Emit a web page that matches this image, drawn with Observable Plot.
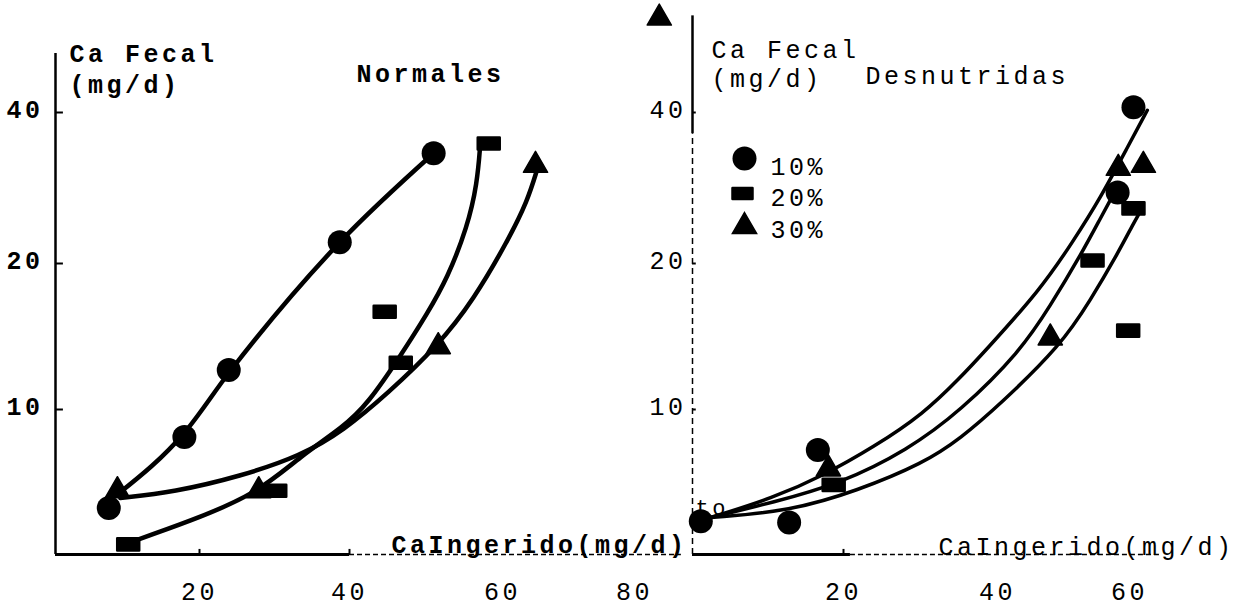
<!DOCTYPE html>
<html><head><meta charset="utf-8">
<script src="https://cdn.jsdelivr.net/npm/d3@7"></script>
<script src="https://cdn.jsdelivr.net/npm/@observablehq/plot@0.6"></script>
<style>
html,body{margin:0;padding:0;background:#fff;}
#wrap{position:relative;width:1234px;height:607px;overflow:hidden;background:#fff;}
#wrap svg{position:absolute;top:0;}
svg text{letter-spacing:3.5px;}
</style></head><body><div id="wrap"></div>
<script>
// ---------- data ----------
const yTicks = [10, 20, 40];
const xTicksLeft = [20, 40, 60, 80];
const xTicksRight = [20, 40, 60];
const yStops = [0, 10, 20, 40];
const xStopsLeft = [0, 20, 40, 60, 80];
const xStopsRight = [0, 20, 40, 60];
const yAxisLabel = ["Ca Fecal", "(mg/d)"];
const xAxisLabel = "CaIngerido(mg/d)";
const titleLeft = "Normales";
const titleRight = "Desnutridas";
const legendLabels = ["10%", "20%", "30%"];
const originNote = "to";

// Normales (left) – measured points
const normX10 = [7.4, 17.9, 23.9, 38.7, 51.0];
const normY10 = [3.2, 8.1, 12.7, 22.8, 34.6];
const normX20 = [10.1, 30.1, 44.6, 46.7, 58.2];
const normY20 = [0.7, 4.4, 16.7, 13.2, 35.9];
const normX30 = [8.6, 27.9, 51.6, 65.0];
const normY30 = [4.4, 4.4, 14.3, 33.0];
// Normales – fitted curves
const normFitX10 = [8.75, 17.9, 23.9, 38.7, 51.0];
const normFitY10 = [4.2, 8.4, 12.5, 22.8, 34.6];
const normFitX20 = [10.1, 18.75, 27.7, 33.5, 39.2, 42.4, 46.7, 50.2, 52.8, 55.4, 56.7, 57.1];
const normFitY20 = [0.8, 2.3, 4.2, 6.8, 8.8, 10.4, 13.7, 16.6, 19.0, 24.8, 30.6, 35.9];
const normFitX30 = [9.0, 16.4, 25.5, 33.5, 39.2, 45.0, 51.6, 56.2, 60.8, 63.8, 65.3];
const normFitY30 = [3.9, 4.3, 5.4, 6.8, 8.55, 11.1, 14.4, 17.5, 23.0, 28.3, 32.6];

// Desnutridas (right) – measured points
const desX10 = [1.1, 12.8, 16.6, 58.2, 60.6];
const desY10 = [2.3, 2.2, 7.2, 29.4, 40.7];
const desX20 = [18.7, 54.4, 60.6, 59.8];
const desY20 = [4.8, 20.4, 27.3, 15.4];
const desX30 = [18.0, 48.0, 58.3, 62.1];
const desY30 = [5.9, 14.9, 32.6, 33.0];
// Desnutridas – fitted curves
const desFitX10 = [2.4, 10.7, 17.35, 23.9, 30.4, 35.2, 38.2, 46.5, 51.5, 55.6, 59.7, 62.7];
const desFitY10 = [2.55, 3.9, 5.45, 7.4, 9.7, 12.2, 13.9, 18.2, 23.0, 28.7, 35.4, 40.3];
const desFitX30 = [2.4, 10.7, 19.6, 28.3, 35.2, 43.5, 48.0, 52.6, 55.6, 57.9];
const desFitY30 = [2.55, 3.6, 4.9, 7.2, 9.9, 14.0, 17.1, 21.1, 26.0, 29.7];
const desFitX20 = [2.4, 13.0, 21.8, 30.4, 35.2, 40.5, 49.6, 54.1, 58.2, 60.6, 61.7];
const desFitY20 = [2.55, 3.0, 4.4, 6.3, 8.0, 10.4, 14.4, 17.5, 21.3, 25.3, 27.0];
// stray mark at the top of the scan
const strayX = [-4.4];
const strayY = [52.5];
// axis extents (data units)
const leftAxisTop = 47.8, rightAxisTop = 52.8, rightAxisSolidTo = 37.2;
const leftBaseSolidTo = 40.0, leftBaseEnd = 87.1, rightBaseSolidTo = 20.9, rightBaseEnd = 64.7;

// ---------- helpers ----------
const FONT = "'Liberation Mono','DejaVu Sans Mono',monospace";
const rows = (xs, ys) => xs.map((x, i) => ({x, y: ys[i]}));
const rectSymbol = {
  draw(ctx, size) {
    const r = Math.sqrt(size / Math.PI);
    const w = r * 2, h = r * 1.1;
    ctx.moveTo(-w / 2, -h / 2); ctx.lineTo(w / 2, -h / 2);
    ctx.lineTo(w / 2, h / 2); ctx.lineTo(-w / 2, h / 2); ctx.closePath();
  }
};
const curveOpts = (sw, curve = "basis") => ({x: "x", y: "y", curve, stroke: "black", strokeWidth: sw, strokeLinecap: "round"});
const circleOpts = {x: "x", y: "y", r: 12, fill: "black", stroke: "none"};
const squareOpts = {x: "x", y: "y", r: 11, symbol: rectSymbol, fill: "black", stroke: "black", strokeWidth: 2.5, strokeLinejoin: "round"};
const triOpts = {x: "x", y: "y", r: 9, symbol: "triangle", fill: "black", stroke: "black", strokeWidth: 1.5, strokeLinejoin: "round"};
const TXT = {fontFamily: FONT, fontSize: 25, frameAnchor: "top-left", lineAnchor: "top", textAnchor: "start", fill: "black", text: d => d};

// ---------- left panel ----------
const left = Plot.plot({
  width: 700, height: 607,
  marginLeft: 55, marginRight: 0, marginTop: 0, marginBottom: 53,
  style: {background: "transparent", color: "black", fontFamily: FONT, overflow: "visible"},
  x: {type: "linear", domain: xStopsLeft, range: [55, 199, 349, 502, 634]},
  y: {type: "linear", domain: yStops, range: [554, 409, 263, 112]},
  marks: [
    Plot.ruleX([0], {y1: 0, y2: leftAxisTop, stroke: "black", strokeWidth: 2.5}),
    Plot.ruleY([0], {x1: 0, x2: leftBaseSolidTo, stroke: "black", strokeWidth: 3}),
    Plot.ruleY([0], {x1: leftBaseSolidTo, x2: leftBaseEnd, stroke: "black", strokeWidth: 1.5, strokeDasharray: "5,3"}),
    Plot.ruleY(yTicks, {x1: 0, x2: 1.1, stroke: "black", strokeWidth: 2}),
    Plot.ruleX(xTicksLeft.slice(0, 2), {y1: 0, y2: 0.35, stroke: "black", strokeWidth: 2}),
    Plot.axisY(yTicks, {anchor: "left", tickSize: 0, tickPadding: 12, fontSize: 25, fontFamily: FONT, fontWeight: "bold", label: null, dy: -3}),
    Plot.axisX(xTicksLeft, {anchor: "bottom", tickSize: 0, tickPadding: 28, fontSize: 25, fontFamily: FONT, label: null}),
    Plot.line(rows(normFitX10, normFitY10), curveOpts(4.5, "monotone-x")),
    Plot.line(rows(normFitX20, normFitY20), curveOpts(4.5)),
    Plot.line(rows(normFitX30, normFitY30), curveOpts(4.5)),
    Plot.dot(rows(normX10, normY10), circleOpts),
    Plot.dot(rows(normX20, normY20), squareOpts),
    Plot.dot(rows(normX30, normY30), triOpts),
    Plot.text([yAxisLabel.join("\n")], {...TXT, dx: 14, dy: 39, lineHeight: 1.24, fontWeight: "bold"}),
    Plot.text([titleLeft], {...TXT, dx: 301, dy: 64, fontWeight: "bold"}),
    Plot.text([xAxisLabel], {...TXT, dx: 336, dy: 535, fontWeight: "bold"})
  ]
});

// ---------- right panel ----------
const right = Plot.plot({
  width: 617, height: 607,
  marginLeft: 75, marginRight: 0, marginTop: 0, marginBottom: 53,
  style: {background: "transparent", color: "black", fontFamily: FONT, overflow: "visible"},
  x: {type: "linear", domain: xStopsRight, range: [75, 226, 380, 512]},
  y: {type: "linear", domain: yStops, range: [554, 409, 263, 112]},
  marks: [
    Plot.ruleX([0], {y1: rightAxisSolidTo, y2: rightAxisTop, stroke: "black", strokeWidth: 2.5}),
    Plot.ruleX([0], {y1: 0, y2: rightAxisSolidTo, stroke: "black", strokeWidth: 1.5, strokeDasharray: "6,4"}),
    Plot.ruleY([0], {x1: 0, x2: rightBaseSolidTo, stroke: "black", strokeWidth: 3}),
    Plot.ruleY([0], {x1: rightBaseSolidTo, x2: rightBaseEnd, stroke: "black", strokeWidth: 1.5, strokeDasharray: "5,3"}),
    Plot.ruleY(yTicks, {x1: 0, x2: 0.5, stroke: "black", strokeWidth: 2}),
    Plot.ruleX(xTicksRight.slice(0, 2), {y1: 0, y2: 0.35, stroke: "black", strokeWidth: 2}),
    Plot.axisY(yTicks, {anchor: "left", tickSize: 0, tickPadding: 6, fontSize: 25, fontFamily: FONT, label: null, dy: -3}),
    Plot.axisX(xTicksRight, {anchor: "bottom", tickSize: 0, tickPadding: 28, fontSize: 25, fontFamily: FONT, label: null}),
    Plot.line(rows(desFitX10, desFitY10), curveOpts(3.5)),
    Plot.line(rows(desFitX30, desFitY30), curveOpts(3.5)),
    Plot.line(rows(desFitX20, desFitY20), curveOpts(3.5)),
    Plot.dot(rows(desX10, desY10), circleOpts),
    Plot.dot(rows(desX20, desY20), squareOpts),
    Plot.dot(rows(desX30, desY30), triOpts),
    Plot.dot(rows(strayX, strayY), triOpts),
    // legend
    Plot.dot([legendLabels[0]], {frameAnchor: "top-left", dx: 52, dy: 158, r: 12, fill: "black"}),
    Plot.dot([legendLabels[1]], {frameAnchor: "top-left", dx: 50, dy: 193, r: 10, symbol: rectSymbol, fill: "black", stroke: "black", strokeWidth: 2.5, strokeLinejoin: "round"}),
    Plot.dot([legendLabels[2]], {frameAnchor: "top-left", dx: 52, dy: 226, r: 9, symbol: "triangle", fill: "black", stroke: "black", strokeWidth: 1.5}),
    Plot.text([legendLabels.join("\n")], {...TXT, dx: 78, dy: 152, lineHeight: 1.26}),
    Plot.text([yAxisLabel.join("\n")], {...TXT, dx: 19, dy: 37, lineHeight: 1.16}),
    Plot.text([titleRight], {...TXT, dx: 173, dy: 66}),
    Plot.text([xAxisLabel], {...TXT, dx: 246, dy: 537}),
    Plot.text([originNote], {...TXT, fontSize: 22, dx: 3, dy: 499})
  ]
});

const wrap = document.getElementById("wrap");
left.style.left = "0px";
right.style.left = "617px";
wrap.appendChild(left);
wrap.appendChild(right);
</script></body></html>
